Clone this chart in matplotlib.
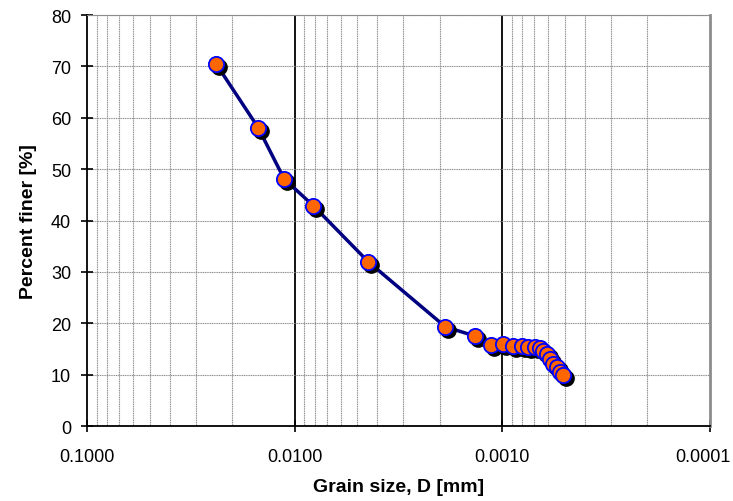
import numpy as np
import matplotlib
matplotlib.use("Agg")
import matplotlib.pyplot as plt
import matplotlib.transforms as mtransforms
from matplotlib.ticker import FixedLocator, LogLocator, NullFormatter

plt.rcParams['font.family'] = ['Liberation Sans', 'DejaVu Sans']

# grain size [mm] and percent finer [%]
grain_size = [0.0239, 0.0150, 0.01124, 0.00814, 0.00443, 0.00188, 0.00135,
              0.00113, 0.000989, 0.000885, 0.000801, 0.00075, 0.000694,
              0.000656, 0.000634, 0.000607, 0.000587, 0.000568, 0.000543,
              0.000525, 0.000508]
percent_finer = [70.5, 58.1, 48.1, 42.9, 32.0, 19.3, 17.5,
                 15.8, 15.9, 15.5, 15.5, 15.4, 15.4,
                 15.2, 14.6, 14.0, 13.1, 12.1, 11.4,
                 10.6, 10.0]

x_ticks = [0.1, 0.01, 0.001, 0.0001]
x_tick_labels = ['0.1000', '0.0100', '0.0010', '0.0001']
y_ticks = [0, 10, 20, 30, 40, 50, 60, 70, 80]

fig = plt.figure(figsize=(7.33, 5.02), dpi=100)
ax = fig.add_axes([0.1187, 0.1494, 0.8499, 0.8187])

ax.set_xscale('log')
ax.set_xlim(0.1, 0.0001)
ax.set_ylim(0, 80)

ax.xaxis.set_major_locator(FixedLocator(x_ticks))
ax.set_xticklabels(x_tick_labels)
ax.xaxis.set_minor_locator(LogLocator(base=10, subs=np.arange(2, 10)))
ax.xaxis.set_minor_formatter(NullFormatter())
ax.set_yticks(y_ticks)

# gridlines
grid_kw = dict(color='#8c8c8c', linestyle=(0, (1, 0.6)), linewidth=0.8)
ax.grid(True, which='minor', axis='x', **grid_kw)
ax.grid(True, which='major', axis='y', **grid_kw)
for xv in x_ticks[1:-1]:
    ax.axvline(xv, color='black', linewidth=1.3, zorder=1)

# curve, marker shadows, markers
ax.plot(grain_size, percent_finer, color='#000080', linewidth=2.5, zorder=2)
shadow = ax.transData + mtransforms.ScaledTranslation(3 / 100, -3 / 100, fig.dpi_scale_trans)
ax.plot(grain_size, percent_finer, linestyle='none', marker='o', markersize=11,
        markerfacecolor='black', markeredgecolor='black', transform=shadow, zorder=3)
ax.plot(grain_size, percent_finer, linestyle='none', marker='o', markersize=11,
        markerfacecolor='#ff6600', markeredgecolor='#0000ff', markeredgewidth=1.3,
        zorder=4)

for side in ['left', 'bottom']:
    ax.spines[side].set_color('black')
    ax.spines[side].set_linewidth(1.3)
ax.spines['top'].set_color('#8c8c8c')
ax.spines['right'].set_color('#8c8c8c')
ax.spines['right'].set_linewidth(2)

ax.tick_params(axis='both', which='major', direction='inout', length=9, width=1.2,
               labelsize=13, colors='black')
ax.tick_params(axis='x', which='major', pad=11)
ax.tick_params(axis='y', which='major', pad=7)
ax.tick_params(axis='x', which='minor', length=0)

# keep the last x label inside the figure
last = ax.get_xticklabels()[-1]
last.set_transform(last.get_transform() +
                   mtransforms.ScaledTranslation(-7 / 100, 0, fig.dpi_scale_trans))

ax.set_xlabel('Grain size, D [mm]', fontsize=14, fontweight='bold', labelpad=10)
ax.set_ylabel('Percent finer [%]', fontsize=14, fontweight='bold', labelpad=10)

fig.savefig('out.png', dpi=100)
